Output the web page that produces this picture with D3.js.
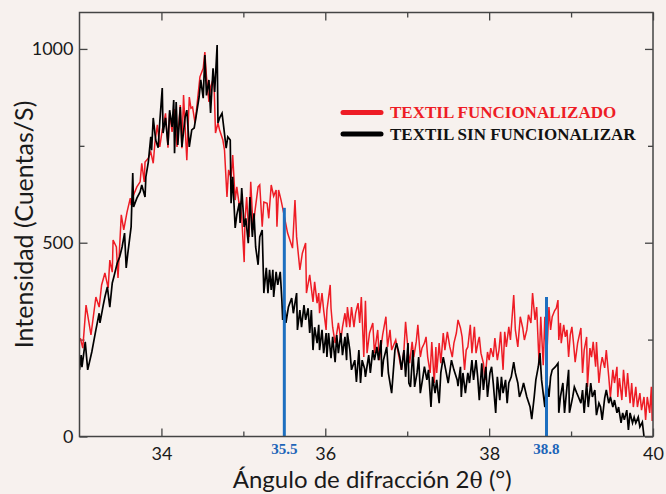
<!DOCTYPE html>
<html>
<head>
<meta charset="utf-8">
<script src="https://cdn.jsdelivr.net/npm/d3@7"></script>
<style>
  html, body { margin: 0; padding: 0; background: #f7f1ee; }
  svg { display: block; }
</style>
</head>
<body>
<div id="chart"></div>
<script>
// [2θ (°), intensidad (cuentas/s)]
const funcionalizado = [
  [33.01,254],[33.04,228],[33.08,339],[33.14,262],[33.20,360],[33.24,334],[33.27,391],[33.31,422],
  [33.35,383],[33.37,455],[33.40,424],[33.41,507],[33.45,489],[33.47,409],[33.51,572],[33.54,533],
  [33.58,579],[33.62,615],[33.63,597],[33.66,623],[33.70,644],[33.74,657],[33.76,705],[33.79,657],
  [33.80,708],[33.84,718],[33.87,734],[33.90,705],[33.92,757],[33.95,804],[33.98,747],[34.01,791],
  [34.03,809],[34.05,834],[34.08,745],[34.10,834],[34.13,786],[34.16,845],[34.19,747],[34.23,855],
  [34.25,744],[34.27,881],[34.31,713],[34.34,876],[34.36,847],[34.38,850],[34.41,809],[34.43,847],
  [34.47,928],[34.51,950],[34.53,992],[34.55,928],[34.58,863],[34.60,902],[34.64,928],[34.66,783],
  [34.69,809],[34.71,791],[34.75,765],[34.77,739],[34.80,618],[34.82,688],[34.85,667],[34.87,726],
  [34.90,610],[34.92,644],[34.95,597],[34.96,602],[34.98,566],[35.01,450],[35.02,558],[35.04,618],
  [35.07,515],[35.09,657],[35.12,533],[35.14,579],[35.18,644],[35.20,649],[35.23,541],[35.25,605],
  [35.29,602],[35.31,563],[35.34,649],[35.37,620],[35.40,636],[35.41,541],[35.43,636],[35.46,610],
  [35.49,579],[35.54,525],[35.60,486],[35.63,610],[35.65,515],[35.69,430],[35.72,473],[35.76,499],
  [35.77,370],[35.81,417],[35.85,347],[35.87,399],[35.90,344],[35.92,370],[35.93,318],[35.96,370],
  [35.98,326],[36.01,275],[36.02,326],[36.06,391],[36.07,331],[36.09,282],[36.12,241],[36.14,267],
  [36.16,293],[36.19,249],[36.21,282],[36.24,318],[36.26,282],[36.27,334],[36.30,282],[36.32,334],
  [36.35,282],[36.37,318],[36.40,344],[36.42,293],[36.44,360],[36.47,205],[36.49,350],[36.51,215],
  [36.54,267],[36.58,293],[36.60,215],[36.64,275],[36.66,197],[36.70,262],[36.74,309],[36.76,231],
  [36.79,275],[36.81,223],[36.86,249],[36.90,205],[36.93,172],[36.96,223],[36.98,296],[37.01,223],
  [37.03,189],[37.06,244],[37.08,205],[37.11,244],[37.13,288],[37.16,205],[37.18,228],[37.21,241],
  [37.23,257],[37.25,205],[37.28,164],[37.30,244],[37.33,138],[37.35,231],[37.36,164],[37.39,241],
  [37.41,189],[37.44,267],[37.46,223],[37.49,270],[37.52,231],[37.55,205],[37.57,241],[37.60,267],
  [37.62,301],[37.65,280],[37.67,257],[37.70,172],[37.72,223],[37.74,231],[37.77,288],[37.79,215],
  [37.82,283],[37.84,215],[37.87,249],[37.88,257],[37.90,215],[37.93,189],[37.95,146],[37.98,218],
  [38.00,197],[38.02,228],[38.05,205],[38.07,254],[38.10,197],[38.12,223],[38.14,270],[38.17,172],
  [38.19,270],[38.21,231],[38.24,283],[38.26,249],[38.30,365],[38.32,275],[38.35,231],[38.38,309],
  [38.41,280],[38.43,249],[38.46,275],[38.48,314],[38.51,293],[38.53,370],[38.56,301],[38.58,334],
  [38.61,184],[38.63,309],[38.66,184],[38.68,309],[38.70,189],[38.73,334],[38.75,275],[38.77,309],
  [38.80,325],[38.82,331],[38.84,352],[38.85,249],[38.87,293],[38.88,241],[38.91,288],[38.93,257],
  [38.95,275],[38.97,205],[38.99,262],[39.01,283],[39.03,241],[39.05,192],[39.08,241],[39.12,280],
  [39.14,164],[39.16,223],[39.19,257],[39.20,128],[39.23,228],[39.25,205],[39.27,244],[39.30,180],
  [39.31,244],[39.34,138],[39.36,180],[39.38,205],[39.41,177],[39.43,223],[39.46,154],[39.48,102],
  [39.51,172],[39.53,138],[39.56,180],[39.57,102],[39.59,151],[39.62,94],[39.64,172],[39.67,102],
  [39.69,164],[39.72,86],[39.74,138],[39.76,76],[39.79,128],[39.81,76],[39.84,112],[39.86,68],
  [39.89,102],[39.91,43],[39.93,102],[39.96,61],[39.98,128],[39.99,40]
];

const sinFuncionalizar = [
  [33.00,172],[33.02,210],[33.03,179],[33.07,244],[33.10,172],[33.15,218],[33.20,275],[33.24,318],
  [33.25,293],[33.29,339],[33.31,360],[33.34,386],[33.37,334],[33.40,396],[33.42,412],[33.46,447],
  [33.49,463],[33.52,489],[33.55,525],[33.57,435],[33.59,473],[33.63,541],[33.65,680],[33.66,592],
  [33.70,615],[33.74,631],[33.76,649],[33.80,618],[33.81,670],[33.84,708],[33.87,773],[33.88,739],
  [33.90,822],[33.93,765],[33.96,745],[33.98,812],[34.01,899],[34.02,783],[34.05,822],[34.08,752],
  [34.10,842],[34.13,799],[34.15,868],[34.16,731],[34.18,863],[34.20,752],[34.23,850],[34.25,747],
  [34.29,825],[34.31,842],[34.34,747],[34.37,791],[34.40,796],[34.42,822],[34.46,876],[34.48,920],
  [34.51,873],[34.53,984],[34.55,880],[34.58,920],[34.60,835],[34.63,950],[34.65,889],[34.68,1010],
  [34.69,809],[34.71,822],[34.74,834],[34.76,799],[34.79,744],[34.81,773],[34.84,765],[34.85,602],
  [34.87,670],[34.90,538],[34.92,572],[34.95,602],[34.96,551],[34.98,641],[35.01,541],[35.03,563],
  [35.06,499],[35.08,618],[35.11,515],[35.13,576],[35.15,489],[35.18,443],[35.20,515],[35.23,533],
  [35.25,370],[35.28,435],[35.30,370],[35.32,430],[35.34,378],[35.36,430],[35.37,360],[35.40,425],
  [35.42,391],[35.45,425],[35.47,352],[35.48,301],[35.51,326],[35.52,293],[35.55,334],[35.59,357],
  [35.61,318],[35.65,370],[35.66,275],[35.69,326],[35.71,282],[35.74,339],[35.76,301],[35.79,331],
  [35.81,267],[35.83,326],[35.85,223],[35.87,282],[35.90,241],[35.92,288],[35.93,223],[35.96,275],
  [35.98,215],[36.01,267],[36.02,205],[36.04,267],[36.07,202],[36.09,257],[36.12,192],[36.14,262],
  [36.16,215],[36.19,267],[36.21,210],[36.24,257],[36.26,197],[36.27,267],[36.30,223],[36.32,172],
  [36.36,197],[36.38,141],[36.41,223],[36.43,138],[36.45,197],[36.48,175],[36.49,154],[36.53,210],
  [36.55,164],[36.58,223],[36.60,197],[36.63,231],[36.65,197],[36.68,249],[36.69,154],[36.71,197],
  [36.75,231],[36.77,164],[36.81,112],[36.85,223],[36.87,241],[36.91,205],[36.93,172],[36.96,223],
  [36.98,154],[37.01,241],[37.02,138],[37.04,128],[37.07,223],[37.09,128],[37.12,164],[37.14,205],
  [37.16,112],[37.19,151],[37.21,180],[37.24,146],[37.26,172],[37.29,76],[37.31,154],[37.34,112],
  [37.36,146],[37.39,86],[37.41,164],[37.44,205],[37.47,172],[37.50,138],[37.54,197],[37.57,172],
  [37.61,146],[37.62,130],[37.65,180],[37.66,102],[37.68,164],[37.71,112],[37.74,164],[37.76,138],
  [37.79,197],[37.81,146],[37.84,197],[37.86,154],[37.88,94],[37.91,189],[37.93,120],[37.96,180],
  [37.98,102],[38.01,164],[38.03,180],[38.05,138],[38.08,61],[38.10,154],[38.13,94],[38.15,154],
  [38.17,112],[38.20,146],[38.22,86],[38.24,138],[38.27,154],[38.30,192],[38.32,164],[38.35,138],
  [38.37,102],[38.40,120],[38.42,138],[38.46,102],[38.50,76],[38.52,45],[38.55,102],[38.57,146],
  [38.60,180],[38.62,215],[38.64,146],[38.68,76],[38.70,146],[38.73,102],[38.75,154],[38.77,172],
  [38.81,180],[38.84,189],[38.85,61],[38.87,102],[38.90,138],[38.92,61],[38.95,128],[38.97,172],
  [38.98,61],[39.02,102],[39.04,128],[39.07,112],[39.09,102],[39.12,86],[39.14,120],[39.16,61],
  [39.19,138],[39.21,76],[39.24,138],[39.26,102],[39.29,120],[39.31,55],[39.34,86],[39.36,76],
  [39.38,43],[39.41,99],[39.43,120],[39.46,86],[39.48,102],[39.51,76],[39.53,94],[39.56,61],
  [39.58,76],[39.61,35],[39.63,61],[39.65,43],[39.68,68],[39.70,17],[39.72,61],[39.75,35],
  [39.77,50],[39.79,35],[39.82,50],[39.84,25],[39.87,37],[39.89,0]
];

const seriesNames = ["TEXTIL FUNCIONALIZADO", "TEXTIL SIN FUNCIONALIZAR"];
const seriesColors = ["#ee1c25", "#000000"];

// vertical markers: where the line sits, and the label printed under it
const markerAngles = [35.5, 38.7];
const markerTops = [590, 360];
const markerLabels = ["35.5", "38.8"];

const xTicks = [34, 35, 36, 37, 38, 39, 40];
const xLabels = [34, 36, 38, 40];
const yTicks = [0, 250, 500, 750, 1000];
const yLabels = [0, 500, 1000];

const width = 666;
const height = 494;
const marginTop = 12.5;
const marginRight = 13;
const marginBottom = 57.5;
const marginLeft = 79.5;

const x = d3.scaleLinear()
    .domain([33, 40])
    .range([marginLeft, width - marginRight]);
const y = d3.scaleLinear()
    .domain([0, 1094])
    .range([height - marginBottom, marginTop]);

const svg = d3.select("#chart")
  .append("svg")
    .attr("width", width)
    .attr("height", height);

svg.append("rect")
    .attr("width", width)
    .attr("height", height)
    .attr("fill", "#f7f1ee");

svg.append("clipPath")
    .attr("id", "plot")
  .append("rect")
    .attr("x", marginLeft)
    .attr("y", marginTop)
    .attr("width", width - marginLeft - marginRight)
    .attr("height", height - marginTop - marginBottom);

const tickFont = "Lato, 'Open Sans', sans-serif";
const serifFont = "'Liberation Serif', 'Times New Roman', serif";

// bottom axis
svg.append("g")
    .attr("transform", `translate(0,${height - marginBottom})`)
    .call(d3.axisBottom(x)
        .tickValues(xTicks)
        .tickSizeInner(-8)
        .tickSizeOuter(0)
        .tickPadding(11)
        .tickFormat(d => xLabels.includes(d) ? d : ""))
    .call(g => g.select(".domain").remove())
    .call(g => g.selectAll(".tick line")
        .attr("y2", d => xLabels.includes(d) ? -8 : -5)
        .attr("stroke", "#444").attr("stroke-width", 1.3))
    .call(g => g.selectAll(".tick text")
        .attr("font-family", tickFont).attr("font-size", 18).attr("fill", "#1a1a1a"));

// top axis, ticks only
svg.append("g")
    .attr("transform", `translate(0,${marginTop})`)
    .call(d3.axisTop(x).tickValues(xTicks).tickSizeInner(-8).tickSizeOuter(0).tickFormat(""))
    .call(g => g.select(".domain").remove())
    .call(g => g.selectAll(".tick line")
        .attr("y2", d => xLabels.includes(d) ? 8 : 5)
        .attr("stroke", "#444").attr("stroke-width", 1.3));

// left axis
svg.append("g")
    .attr("transform", `translate(${marginLeft},0)`)
    .call(d3.axisLeft(y)
        .tickValues(yTicks)
        .tickSizeInner(-8)
        .tickSizeOuter(0)
        .tickPadding(6)
        .tickFormat(d => yLabels.includes(d) ? d : ""))
    .call(g => g.select(".domain").remove())
    .call(g => g.selectAll(".tick line")
        .attr("x2", d => yLabels.includes(d) ? 8 : 5)
        .attr("stroke", "#444").attr("stroke-width", 1.3))
    .call(g => g.selectAll(".tick text")
        .attr("font-family", tickFont).attr("font-size", 18).attr("fill", "#1a1a1a"));

// right axis, ticks only
svg.append("g")
    .attr("transform", `translate(${width - marginRight},0)`)
    .call(d3.axisRight(y).tickValues(yTicks).tickSizeInner(-8).tickSizeOuter(0).tickFormat(""))
    .call(g => g.select(".domain").remove())
    .call(g => g.selectAll(".tick line")
        .attr("x2", d => yLabels.includes(d) ? -8 : -5)
        .attr("stroke", "#444").attr("stroke-width", 1.3));

// data lines
const line = d3.line()
    .x(d => x(d[0]))
    .y(d => y(d[1]));

[funcionalizado, sinFuncionalizar].forEach((data, i) => {
  svg.append("path")
      .datum(data)
      .attr("clip-path", "url(#plot)")
      .attr("fill", "none")
      .attr("stroke", seriesColors[i])
      .attr("stroke-width", i === 0 ? 1.5 : 1.7)
      .attr("stroke-linejoin", "miter")
      .attr("d", line);
});

// blue markers
svg.append("g")
  .selectAll("line")
  .data(markerAngles)
  .join("line")
    .attr("x1", d => x(d))
    .attr("x2", d => x(d))
    .attr("y1", y(0))
    .attr("y2", (d, i) => y(markerTops[i]))
    .attr("stroke", "#1d6fc0")
    .attr("stroke-width", 3);

svg.append("g")
  .selectAll("text")
  .data(markerAngles)
  .join("text")
    .attr("x", d => x(d))
    .attr("y", height - marginBottom + 17.5)
    .attr("text-anchor", "middle")
    .attr("font-family", serifFont)
    .attr("font-weight", "bold")
    .attr("font-size", 15)
    .attr("fill", "#1d65b8")
    .text((d, i) => markerLabels[i]);

// frame
svg.append("rect")
    .attr("x", marginLeft)
    .attr("y", marginTop)
    .attr("width", width - marginLeft - marginRight)
    .attr("height", height - marginTop - marginBottom)
    .attr("fill", "none")
    .attr("stroke", "#444")
    .attr("stroke-width", 1.5);

// legend
const legend = svg.append("g")
    .attr("transform", "translate(343,112.5)");

legend.selectAll("line")
  .data(seriesNames)
  .join("line")
    .attr("x1", 0)
    .attr("x2", 38)
    .attr("y1", (d, i) => i * 21.5)
    .attr("y2", (d, i) => i * 21.5)
    .attr("stroke", (d, i) => seriesColors[i])
    .attr("stroke-width", 5)
    .attr("stroke-linecap", "round");

legend.selectAll("text")
  .data(seriesNames)
  .join("text")
    .attr("x", 47)
    .attr("y", (d, i) => i * 21.5 + 5.5)
    .attr("font-family", serifFont)
    .attr("font-weight", "bold")
    .attr("font-size", 17)
    .attr("fill", (d, i) => i === 0 ? "#ee1c25" : "#111")
    .text(d => d);

// axis titles
svg.append("text")
    .attr("x", (marginLeft + width - marginRight) / 2 + 6)
    .attr("y", 488)
    .attr("text-anchor", "middle")
    .attr("font-family", tickFont)
    .attr("font-size", 24)
    .attr("fill", "#1a1a1a")
    .call(t => {
      t.append("tspan").text("Ángulo de difracción 2");
      t.append("tspan").attr("font-family", "'DejaVu Serif', serif").attr("font-size", 22).text("θ");
      t.append("tspan").text("  (°)");
    });

svg.append("text")
    .attr("transform", `translate(33,${(marginTop + height - marginBottom) / 2}) rotate(-90)`)
    .attr("text-anchor", "middle")
    .attr("font-family", tickFont)
    .attr("font-size", 25)
    .attr("fill", "#1a1a1a")
    .text("Intensidad (Cuentas/S)");
</script>
</body>
</html>
